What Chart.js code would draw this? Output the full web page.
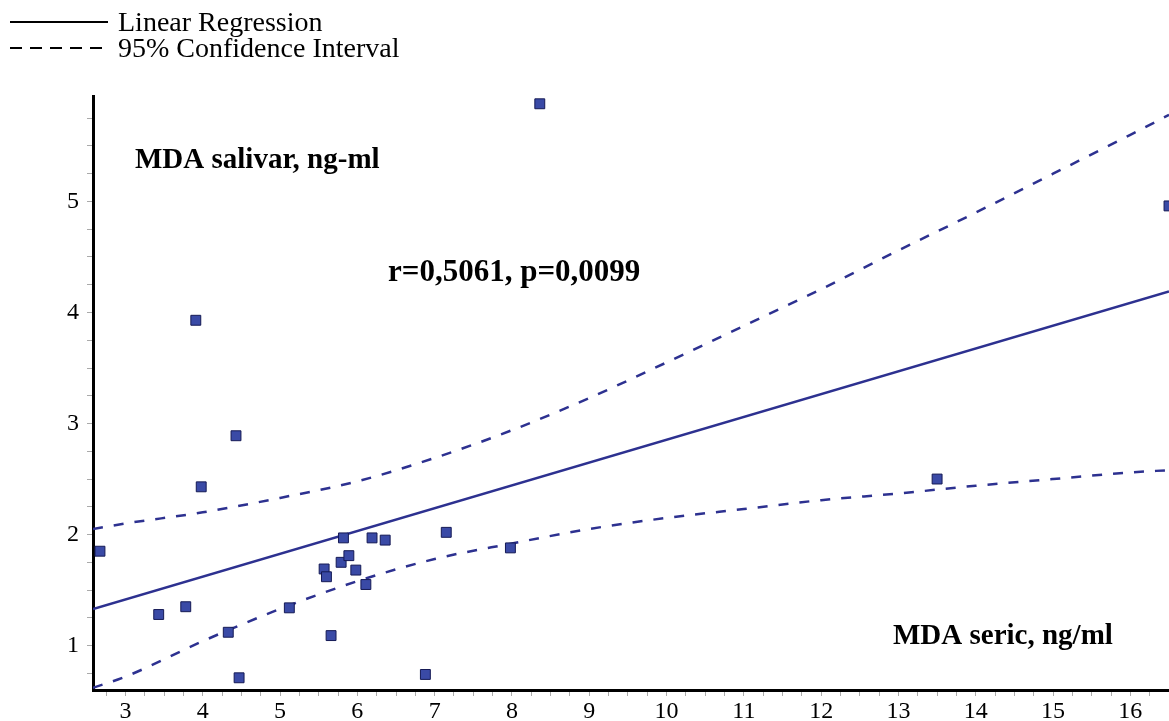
<!DOCTYPE html>
<html>
<head>
<meta charset="utf-8">
<script src="https://cdn.jsdelivr.net/npm/chart.js@4/dist/chart.umd.min.js"></script>
<style>
  body { margin: 0; background: #fff; }
  #wrap { position: relative; width: 1169px; height: 721px; }
  #legend { position: absolute; left: 10px; top: 9px; font-family: 'Liberation Serif', 'Times New Roman', serif; font-size: 28px; color: #000; }
  .row { display: flex; align-items: center; height: 26px; }
  .swatch { width: 98px; height: 2px; margin-right: 10px; background: #000; }
  .dash { width: 92px; height: 2px; margin-right: 16px; background: repeating-linear-gradient(90deg, #000 0 12px, transparent 12px 20px); }
</style>
</head>
<body>
<div id="wrap">
  <canvas id="myChart" width="1169" height="721"></canvas>
  <div id="legend">
    <div class="row"><div class="swatch"></div>Linear Regression</div>
    <div class="row"><div class="dash"></div>95% Confidence Interval</div>
  </div>
</div>
<script>
// scatter points (MDA seric, MDA salivar)
const seric = [2.67, 3.43, 3.78, 3.98, 4.43, 4.33, 4.47, 5.12, 5.57, 5.60, 5.66, 5.79, 5.82, 5.89, 5.98, 6.11, 6.19, 6.36, 6.88, 7.15, 7.98, 3.91, 8.36, 13.5, 16.5];
const salivar = [1.85, 1.28, 1.35, 2.43, 2.89, 1.12, 0.71, 1.34, 1.69, 1.62, 1.09, 1.75, 1.97, 1.81, 1.68, 1.55, 1.97, 1.95, 0.74, 2.02, 1.88, 3.93, 5.88, 2.50, 4.96];

// regression line end points
const regX = [2.58, 16.5];
const regY = [1.33, 4.19];

// confidence band read along the x axis
const bandX = [2.58, 3, 4, 5, 6, 7, 8, 9, 10, 11, 12, 13, 14, 15, 16, 16.5];
const upperY = [2.05, 2.10, 2.20, 2.33, 2.48, 2.69, 2.94, 3.23, 3.55, 3.88, 4.21, 4.56, 4.90, 5.25, 5.60, 5.78];
const lowerY = [0.62, 0.72, 1.04, 1.33, 1.58, 1.78, 1.92, 2.05, 2.15, 2.23, 2.31, 2.37, 2.44, 2.50, 2.56, 2.58];

const xMin = 2.58, xMax = 16.5;
const yMin = 0.6, yMax = 5.95;

const lineBlue = '#2d3190';
const serif = "'Liberation Serif', 'Times New Roman', serif";

function pairs(xs, ys) {
  return xs.map((x, i) => ({ x: x, y: ys[i] }));
}

const notes = [
  { text: 'MDA salivar, ng-ml', x: 135, y: 161, size: 29 },
  { text: 'r=0,5061, p=0,0099', x: 388, y: 273, size: 31 },
  { text: 'MDA seric, ng/ml', x: 893, y: 637, size: 29 }
];

const notePlugin = {
  id: 'notes',
  afterDraw(chart) {
    const ctx = chart.ctx;
    ctx.save();
    ctx.fillStyle = '#000';
    ctx.textBaseline = 'middle';
    notes.forEach((n) => {
      ctx.font = 'bold ' + n.size + 'px ' + serif;
      ctx.fillText(n.text, n.x, n.y);
    });
    ctx.restore();
  }
};

function isWhole(v) {
  return Math.abs(v - Math.round(v)) < 1e-6;
}

function mainEvent() {
  const chartArea = document.querySelector('#myChart');
  new Chart(chartArea, {
    type: 'scatter',
    data: {
      datasets: [
        {
          label: 'points',
          data: pairs(seric, salivar),
          pointStyle: 'rect',
          pointRadius: 7,
          pointHoverRadius: 7,
          backgroundColor: '#3a4aa6',
          borderColor: '#151a55',
          borderWidth: 1,
          order: 0
        },
        {
          label: 'Linear Regression',
          type: 'line',
          data: pairs(regX, regY),
          borderColor: lineBlue,
          borderWidth: 2.5,
          pointRadius: 0,
          order: 1
        },
        {
          label: 'upper',
          type: 'line',
          data: pairs(bandX, upperY),
          borderColor: lineBlue,
          borderWidth: 2.5,
          borderDash: [10, 11],
          cubicInterpolationMode: 'monotone',
          pointRadius: 0,
          order: 2
        },
        {
          label: 'lower',
          type: 'line',
          data: pairs(bandX, lowerY),
          borderColor: lineBlue,
          borderWidth: 2.5,
          borderDash: [10, 11],
          cubicInterpolationMode: 'monotone',
          pointRadius: 0,
          order: 3
        }
      ]
    },
    options: {
      responsive: false,
      animation: false,
      layout: { autoPadding: false, padding: { top: 96, left: 0, right: 0, bottom: 0 } },
      plugins: { legend: { display: false }, tooltip: { enabled: false } },
      scales: {
        x: {
          type: 'linear',
          min: xMin,
          max: xMax,
          afterFit: (scale) => {
            scale.height = 31;
            scale.paddingLeft = 0;
            scale.paddingRight = 0;
          },
          border: { color: '#000', width: 3 },
          grid: { drawOnChartArea: false, drawTicks: true, tickLength: 6, color: '#aaa' },
          ticks: {
            stepSize: 0.25,
            includeBounds: false,
            autoSkip: false,
            maxRotation: 0,
            maxTicksLimit: 200,
            padding: 1,
            color: '#000',
            font: { family: serif, size: 24 },
            callback: (v) => isWhole(v) ? String(Math.round(v)) : ''
          }
        },
        y: {
          type: 'linear',
          min: yMin,
          max: yMax,
          afterFit: (scale) => {
            scale.width = 93;
            scale.paddingTop = 0;
            scale.paddingBottom = 0;
          },
          border: { color: '#000', width: 3 },
          grid: { drawOnChartArea: false, drawTicks: true, tickLength: 6, color: '#aaa' },
          ticks: {
            stepSize: 0.25,
            includeBounds: false,
            autoSkip: false,
            maxTicksLimit: 200,
            padding: 8,
            color: '#000',
            font: { family: serif, size: 24 },
            callback: (v) => isWhole(v) ? String(Math.round(v)) : ''
          }
        }
      }
    },
    plugins: [notePlugin]
  });
}

document.addEventListener('DOMContentLoaded', () => mainEvent());
</script>
</body>
</html>
